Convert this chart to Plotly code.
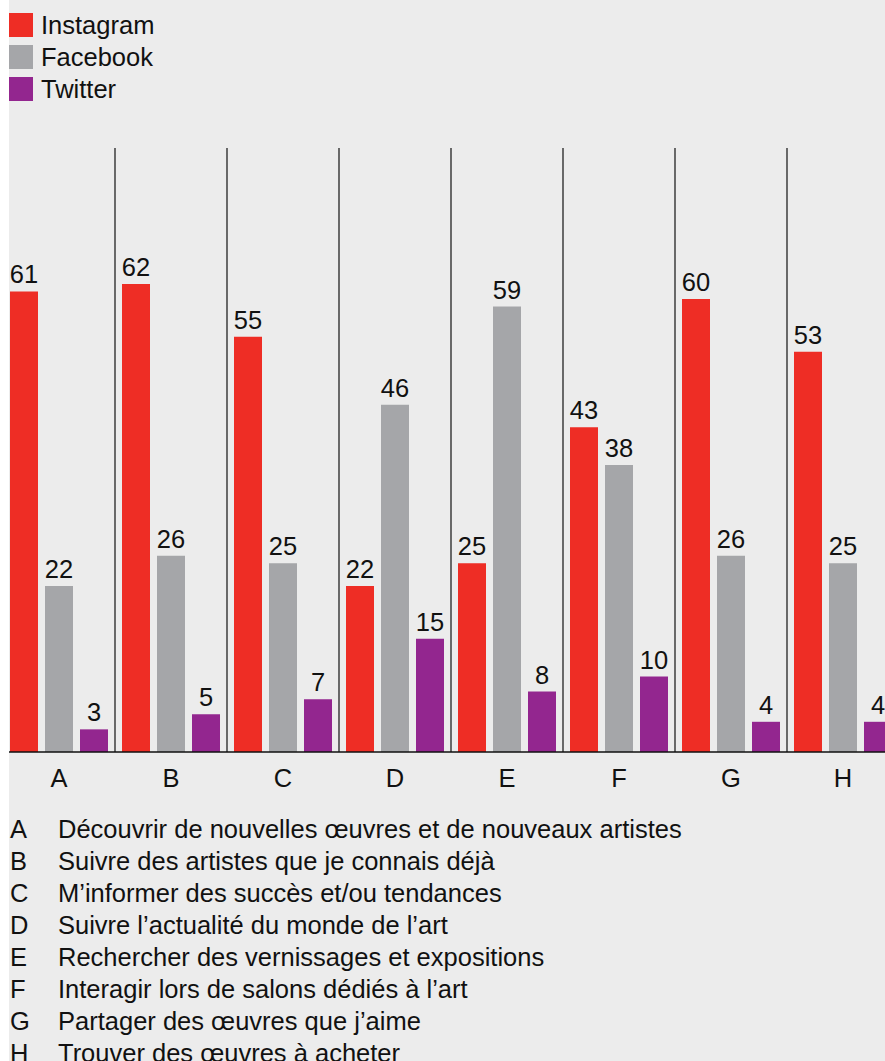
import plotly.graph_objects as go

categories = ["A", "B", "C", "D", "E", "F", "G", "H"]
series_names = ["Instagram", "Facebook", "Twitter"]
instagram = [61, 62, 55, 22, 25, 43, 60, 53]
facebook = [22, 26, 25, 46, 59, 38, 26, 25]
twitter = [3, 5, 7, 15, 8, 10, 4, 4]
descriptions = [
    "Découvrir de nouvelles œuvres et de nouveaux artistes",
    "Suivre des artistes que je connais déjà",
    "M’informer des succès et/ou tendances",
    "Suivre l’actualité du monde de l’art",
    "Rechercher des vernissages et expositions",
    "Interagir lors de salons dédiés à l’art",
    "Partager des œuvres que j’aime",
    "Trouver des œuvres à acheter",
]
colors = ["#ee2d25", "#a5a6a9", "#93268f"]
series_values = [instagram, facebook, twitter]

W, H = 885, 1061
L, T, B = 9, 148, 752
PW, PH = W - L, B - T
FONT = "Liberation Sans"
FS = 25.5


def px2x(px):
    return (px - L) / PW


def py2y(py):
    return (B - py) / PH


fig = go.Figure()
xs = list(range(len(categories)))
for name, vals, col in zip(series_names, series_values, colors):
    fig.add_trace(go.Bar(
        x=xs, y=vals, name=name, marker=dict(color=col, line=dict(width=0)),
        text=vals, texttemplate="%{text}", textposition="outside",
        textfont=dict(size=FS, color="#111111", family=FONT),
        constraintext="none", cliponaxis=False, showlegend=False,
    ))

shapes = []
# left white strip
shapes.append(dict(type="rect", xref="paper", yref="paper",
                   x0=px2x(-2), x1=px2x(L), y0=py2y(H + 2), y1=py2y(-2),
                   fillcolor="white", line=dict(width=0), layer="above"))
# separators
for i in range(len(categories) - 1):
    shapes.append(dict(type="line", xref="x", yref="paper", x0=i + 0.5, x1=i + 0.5,
                       y0=0, y1=1, line=dict(color="#111111", width=1.2), layer="above"))
# baseline
shapes.append(dict(type="line", xref="paper", yref="paper", x0=0, x1=1, y0=0, y1=0,
                   line=dict(color="#111111", width=1.5), layer="above"))

annotations = []
# custom legend
for k, (name, col) in enumerate(zip(series_names, colors)):
    cy = 25 + 32 * k
    shapes.append(dict(type="rect", xref="paper", yref="paper",
                       x0=px2x(9), x1=px2x(33), y0=py2y(cy + 12), y1=py2y(cy - 12),
                       fillcolor=col, line=dict(width=0)))
    annotations.append(dict(xref="paper", yref="paper", x=px2x(39), y=py2y(cy),
                            xanchor="left", yanchor="middle", showarrow=False,
                            text=name, font=dict(size=FS, color="#111111", family=FONT)))
# description list
for k, (c, d) in enumerate(zip(categories, descriptions)):
    cy = 829 + 32 * k
    annotations.append(dict(xref="paper", yref="paper", x=px2x(8), y=py2y(cy),
                            xanchor="left", yanchor="middle", showarrow=False,
                            text=c, font=dict(size=FS, color="#111111", family=FONT)))
    annotations.append(dict(xref="paper", yref="paper", x=px2x(56), y=py2y(cy),
                            xanchor="left", yanchor="middle", showarrow=False,
                            text=d, font=dict(size=FS, color="#111111", family=FONT)))

fig.update_layout(
    width=W, height=H,
    margin=dict(l=L, r=0, t=T, b=H - B, pad=0),
    paper_bgcolor="#ececec", plot_bgcolor="#ececec",
    barmode="group", bargap=0.0625, bargroupgap=0.2,
    shapes=shapes, annotations=annotations,
    font=dict(family=FONT, color="#111111"),
)
fig.update_xaxes(range=[(L - 59) / 112, (W - 59) / 112], tickmode="array",
                 tickvals=xs, ticktext=categories, showgrid=False, zeroline=False,
                 showline=False, ticks="", ticklabelstandoff=8,
                 tickfont=dict(size=FS, color="#111111", family=FONT))
fig.update_yaxes(range=[0, 80], visible=False, showgrid=False, zeroline=False)

fig.write_html(
    "out.html",
    config={"displayModeBar": False},
    post_script="document.body.style.margin='0';document.body.style.overflow='hidden';",
)
